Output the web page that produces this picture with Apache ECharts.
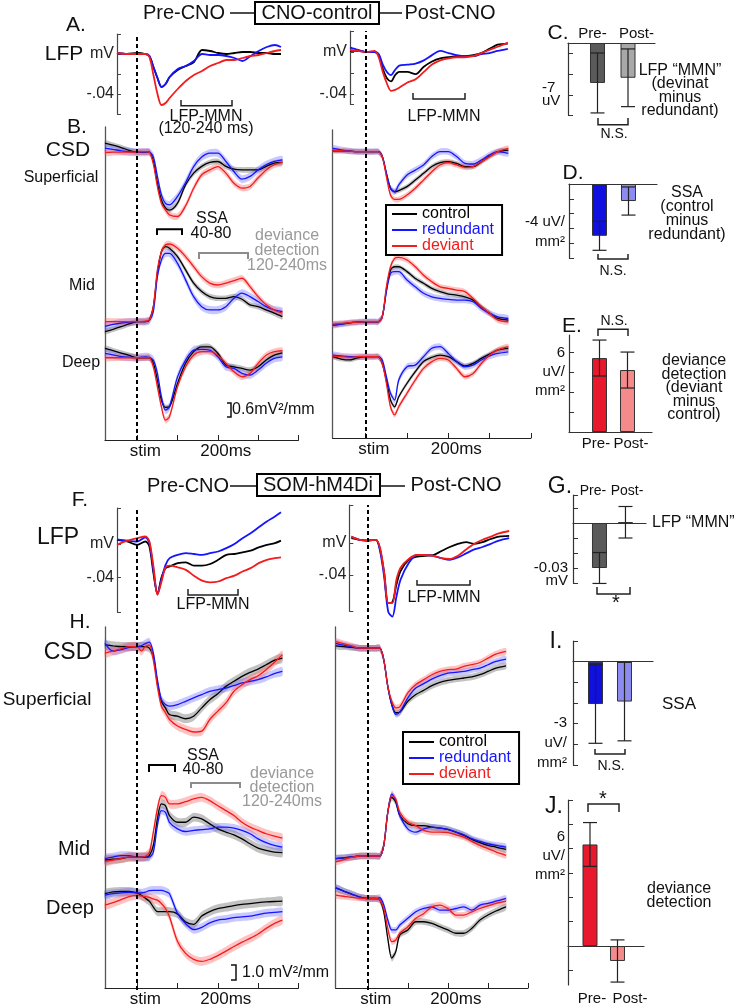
<!DOCTYPE html>
<html>
<head>
<meta charset="utf-8">
<title>LFP and CSD, CNO-control vs SOM-hM4Di</title>
<script src="https://cdn.jsdelivr.net/npm/echarts@6.0.0/dist/echarts.min.js"></script>
<style>
  html, body { margin: 0; padding: 0; background: #fff; }
  #chart { width: 736px; height: 1008px; }
</style>
</head>
<body>
<div id="chart"></div>
<script>
// ---- time bases (ms after stimulus) ----
var lfpTimeL = [-50,-25,0,20,30,40,50,60,70,80,100,120,140,160,180,200,220,240,260,280,300,320,340,355];
var lfpTimeR = [-40,-20,0,20,30,40,50,60,70,80,100,120,140,160,180,200,220,240,260,280,300,320,345];
var csdTimeL = [-80,-60,-40,-20,0,10,20,30,40,50,60,70,80,100,120,140,160,180,200,220,240,260,280,300,320,340,360];
var csdTimeR = [-80,-60,-40,-20,0,10,20,30,40,50,60,70,80,100,120,140,160,180,200,220,240,260,280,300,320,345];

// ---- LFP traces (mV) ----
var lfpCnoPreControl   = [0.001,0,0.001,0,-0.002,-0.013,-0.024,-0.033,-0.030,-0.023,-0.016,-0.012,-0.008,0.004,0.003,0.001,0.000,0.001,0.002,0.002,0.001,0.001,0.000,0.000];
var lfpCnoPreRedundant = [0.001,0,0,0,-0.002,-0.013,-0.024,-0.033,-0.030,-0.023,-0.015,-0.012,-0.007,0.000,-0.001,-0.001,-0.002,-0.004,-0.007,-0.002,0.003,0.007,0.009,0.007];
var lfpCnoPreDeviant   = [0.001,0,0,0,-0.003,-0.021,-0.040,-0.051,-0.049,-0.044,-0.035,-0.027,-0.021,-0.017,-0.012,-0.009,-0.006,-0.006,-0.004,-0.002,-0.001,0.001,0.003,0.004];

var lfpCnoPostControl   = [0.001,0.001,0,0,-0.003,-0.016,-0.025,-0.028,-0.022,-0.019,-0.019,-0.021,-0.014,-0.009,-0.006,-0.005,-0.004,-0.004,-0.003,-0.001,0.003,0.007,0.008];
var lfpCnoPostRedundant = [0.0045,0.002,0,0,-0.002,-0.012,-0.019,-0.022,-0.017,-0.013,-0.012,-0.011,-0.008,-0.003,0.001,-0.001,-0.003,-0.004,-0.004,-0.002,-0.001,0.001,0.003];
var lfpCnoPostDeviant   = [0.002,0.001,0,0.001,-0.005,-0.019,-0.030,-0.037,-0.036,-0.034,-0.029,-0.026,-0.019,-0.012,-0.008,-0.006,-0.005,-0.005,-0.004,-0.001,0.002,0.005,0.009];

var lfpSomPreControl   = [0.005,0.003,-0.001,0.003,-0.003,-0.035,-0.060,-0.040,-0.029,-0.027,-0.023,-0.022,-0.026,-0.026,-0.024,-0.019,-0.013,-0.012,-0.010,-0.008,-0.004,-0.001,0.001,0.004];
var lfpSomPreRedundant = [0.0056,0.004,0.003,0.008,0.001,-0.031,-0.060,-0.042,-0.025,-0.017,-0.013,-0.011,-0.012,-0.013,-0.011,-0.009,-0.005,0.000,0.007,0.013,0.020,0.027,0.033,0.038];
var lfpSomPreDeviant   = [-0.001,0.004,0.007,0.009,0.003,-0.027,-0.061,-0.045,-0.028,-0.026,-0.028,-0.031,-0.038,-0.044,-0.046,-0.045,-0.041,-0.038,-0.033,-0.029,-0.023,-0.019,-0.017,-0.016];

var lfpSomPostControl   = [0.006,0.004,0.003,0.004,-0.008,-0.037,-0.075,-0.074,-0.052,-0.035,-0.021,-0.017,-0.016,-0.015,-0.010,-0.005,-0.001,0.001,-0.001,0.001,0.005,0.008,0.009];
var lfpSomPostRedundant = [0.008,0.004,0.003,0.004,-0.010,-0.042,-0.086,-0.092,-0.067,-0.046,-0.025,-0.015,-0.015,-0.016,-0.019,-0.021,-0.018,-0.013,-0.008,-0.005,-0.001,0.003,0.006];
var lfpSomPostDeviant   = [0.008,0.004,0.003,0.004,-0.006,-0.037,-0.075,-0.075,-0.046,-0.031,-0.020,-0.015,-0.015,-0.016,-0.019,-0.020,-0.016,-0.008,-0.001,0.004,0.008,0.012,0.015];

// ---- CSD traces (mV^2/mm, relative to each layer's baseline) ----
var csdCnoPreSupControl   = [0.39,0.3,0.2,0.08,0,0,0,0,-0.4,-1.33,-2.05,-2.39,-2.49,-2.19,-1.4,-0.9,-0.61,-0.44,-0.4,-0.61,-0.73,-0.76,-0.76,-0.76,-0.61,-0.47,-0.44];
var csdCnoPreSupRedundant = [0.17,0.12,0.06,0.02,0,0,0,0,-0.2,-1.04,-1.83,-2.2,-2.26,-1.9,-1.3,-0.62,-0.21,-0.04,-0.04,-0.4,-0.83,-1.16,-1.04,-0.76,-0.54,-0.4,-0.33];
var csdCnoPreSupDeviant   = [-0.02,0,0,0,0,0.02,0.02,0,-0.5,-1.47,-2.19,-2.48,-2.69,-2.76,-2.3,-1.55,-0.97,-0.76,-0.62,-0.9,-1.33,-1.54,-1.47,-1.1,-0.76,-0.54,-0.44];
var csdCnoPreMidControl   = [-0.43,-0.33,-0.22,-0.1,0,0,0,0.07,0.64,2.08,3.0,3.22,3.15,2.79,2.22,1.65,1.29,1.07,1.0,1.0,1.07,0.96,0.72,0.64,0.5,0.36,0.21];
var csdCnoPreMidRedundant = [-0.2,-0.12,-0.06,-0.02,0,0,0,0.05,0.43,1.93,2.65,2.93,2.93,2.5,1.79,1.07,0.64,0.5,0.5,0.64,1.0,1.22,1.07,0.86,0.64,0.5,0.43];
var csdCnoPreMidDeviant   = [0,0,0,0,0,0,0.02,0.07,0.64,2.22,3.0,3.29,3.33,3.15,2.79,2.36,1.93,1.65,1.57,1.65,1.76,1.86,1.5,1.07,0.72,0.5,0.36];
var csdCnoPreDeepControl   = [0.4,0.3,0.2,0.1,0,0,0,0,-0.24,-0.96,-1.82,-2.13,-2.1,-1.1,-0.24,0.26,0.47,0.47,0.19,-0.31,-0.39,-0.46,-0.53,-0.39,-0.1,0.11,0.21];
var csdCnoPreDeepRedundant = [0.19,0.12,0.05,0.02,0,0.02,0.04,0.02,-0.1,-0.67,-1.67,-2.25,-2.1,-0.82,-0.1,0.33,0.36,0.33,0.04,-0.39,-0.46,-0.67,-0.74,-0.53,-0.24,-0.03,0.04];
var csdCnoPreDeepDeviant   = [0,0,0,0,0,0,0,0,-0.39,-1.24,-2.1,-2.68,-2.53,-1.24,-0.39,0.11,0.26,0.26,0.11,-0.24,-0.6,-0.82,-0.67,-0.24,0.11,0.26,0.3];

var csdCnoPostSupControl   = [0.04,0.03,0.02,0,0,0,0,0,-0.21,-0.93,-1.57,-1.72,-1.67,-1.5,-1.22,-0.93,-0.64,-0.47,-0.43,-0.5,-0.64,-0.64,-0.43,-0.19,0,0.07];
var csdCnoPostSupRedundant = [0.14,0.08,0.03,0,0,0,0,0,-0.21,-0.93,-1.57,-1.72,-1.43,-1.0,-0.79,-0.57,-0.21,0,0,-0.21,-0.5,-0.53,-0.36,-0.14,0,-0.07];
var csdCnoPostSupDeviant   = [0.07,0.04,0.02,0,0,0,0,0,-0.21,-1.07,-1.86,-2.05,-2.05,-1.86,-1.57,-1.22,-0.86,-0.57,-0.47,-0.57,-0.67,-0.64,-0.43,-0.21,0,0.14];
var csdCnoPostMidControl   = [-0.14,-0.1,-0.05,-0.02,0,0,0,0,0.21,1.36,2.22,2.36,2.36,2.15,1.86,1.65,1.43,1.29,1.19,1.14,1.07,0.93,0.64,0.36,0.14,0.07];
var csdCnoPostMidRedundant = [-0.14,-0.1,-0.05,-0.02,0,0,0,0,0.21,1.29,2.07,2.15,2.15,1.79,1.5,1.22,1.07,1.0,0.96,0.93,0.93,0.86,0.57,0.36,0.21,0.14];
var csdCnoPostMidDeviant   = [-0.1,-0.07,-0.04,-0.02,0,0,0,0,0.21,1.5,2.36,2.72,2.76,2.65,2.36,2.0,1.72,1.5,1.43,1.36,1.29,1.0,0.64,0.36,0.07,0];
var csdCnoPostDeepControl   = [0,-0.1,-0.14,-0.05,0,0,0,0,-0.29,-1.0,-1.86,-2.15,-1.72,-1.14,-0.64,-0.21,-0.03,0.07,0,-0.21,-0.4,-0.29,-0.07,0.11,0.29,0.36];
var csdCnoPostDeepRedundant = [0.07,0.03,0,0,0,0,0,0,-0.14,-0.86,-1.57,-1.86,-1.0,-0.43,-0.36,0,0.36,0.43,0.14,-0.21,-0.43,-0.36,-0.14,0.03,0.14,0.21];
var csdCnoPostDeepDeviant   = [0.03,0,-0.03,0,0,0,0,0,-0.29,-1.14,-2.15,-2.5,-2.15,-1.57,-1.0,-0.5,-0.21,-0.07,-0.14,-0.5,-0.86,-0.72,-0.29,0.07,0.29,0.43];

var csdSomPreSupControl   = [0.11,0.05,0,0,0,0,0,-0.1,-0.67,-2.44,-3.67,-4.11,-4.56,-4.67,-4.84,-4.67,-4.11,-3.56,-3.16,-2.67,-2.33,-2.0,-1.73,-1.51,-1.22,-0.93,-0.78];
var csdSomPreSupRedundant = [0.22,-0.3,-0.2,-0.05,0,0.05,0.2,0.3,-0.44,-2.22,-3.56,-3.89,-4.0,-3.89,-3.67,-3.44,-3.22,-3.0,-2.89,-2.78,-2.62,-2.44,-2.33,-2.22,-2.04,-1.82,-1.67];
var csdSomPreSupDeviant   = [-0.44,-0.3,-0.15,0,0,-0.3,0,0.1,-0.89,-2.67,-4.0,-4.44,-4.89,-5.33,-5.56,-5.73,-5.67,-4.89,-4.33,-3.78,-3.0,-2.56,-2.22,-1.96,-1.56,-1.07,-0.56];
var csdSomPreMidControl   = [-0.2,-0.15,-0.1,0,0,0,0,0.1,0.78,2.56,3.56,3.44,2.78,2.33,2.33,2.67,2.56,2.22,1.89,1.67,1.49,1.22,0.89,0.6,0.44,0.33,0.29];
var csdSomPreMidRedundant = [-0.1,0,0.1,0.1,0,0,0,0,0.33,2.11,3.11,3.0,2.33,1.89,1.71,1.78,1.84,1.89,2.0,2.0,1.93,1.78,1.56,1.22,0.96,0.78,0.67];
var csdSomPreMidDeviant   = [-0.3,-0.2,-0.1,0,0,0,0.05,0.3,1.67,3.22,4.11,4.0,3.56,3.56,3.71,3.89,4.0,3.78,3.44,3.11,2.78,2.33,2.0,1.78,1.56,1.4,1.27];
var csdSomPreDeepControl   = [0.1,0.22,0.25,0.25,0.15,0,-0.2,-0.4,-0.8,-1.1,-1.1,-1.1,-1.1,-1.25,-1.8,-1.95,-1.4,-1.1,-0.9,-0.8,-0.7,-0.62,-0.56,-0.5,-0.45,-0.42,-0.4];
var csdSomPreDeepRedundant = [0,0.1,0.15,0.2,0.15,0.15,0.2,0.3,0.33,0.33,0.33,0.25,0.1,-1.22,-1.9,-2.3,-2.15,-1.85,-1.67,-1.6,-1.5,-1.45,-1.4,-1.3,-1.2,-1.15,-1.1];
var csdSomPreDeepDeviant   = [-0.67,-0.5,-0.3,-0.1,0,-0.05,-0.1,-0.15,-0.25,-0.33,-0.56,-0.89,-1.44,-3.1,-3.9,-4.3,-4.44,-4.3,-4.05,-3.75,-3.44,-3.15,-2.89,-2.6,-2.22,-1.9,-1.67];

var csdSomPostSupControl   = [0.15,0.1,0.05,0,0,0,0,0,-0.78,-2.56,-3.78,-4.33,-4.29,-3.56,-3.11,-2.82,-2.51,-2.29,-2.16,-2.07,-2.0,-1.93,-1.78,-1.56,-1.33,-1.18];
var csdSomPostSupRedundant = [0.33,0.2,0.1,0,0,0,0,0,-0.78,-2.56,-3.78,-4.44,-4.29,-3.33,-2.67,-2.38,-2.07,-1.84,-1.67,-1.62,-1.56,-1.44,-1.33,-1.11,-0.89,-0.73];
var csdSomPostSupDeviant   = [0.44,0.3,0.15,0,0,0,0,0,-0.78,-2.56,-3.56,-4.0,-3.93,-3.0,-2.44,-2.11,-1.78,-1.56,-1.44,-1.4,-1.22,-1.11,-0.96,-0.67,-0.4,-0.22];
var csdSomPostMidControl   = [-0.18,-0.12,-0.06,0,0,0,0,0,0.71,2.93,3.93,3.6,2.71,2.16,2.04,2.04,1.93,1.87,1.78,1.6,1.38,1.11,0.89,0.71,0.6,0.44];
var csdSomPostMidRedundant = [-0.18,-0.12,-0.06,0,0,0,0,0,0.71,2.93,4.16,3.71,2.71,1.82,1.6,1.82,1.93,1.87,1.78,1.6,1.42,1.16,0.98,0.82,0.71,0.6];
var csdSomPostMidDeviant   = [-0.4,-0.25,-0.1,0,0,0,0,0,0.71,2.93,4.04,3.82,2.93,2.27,2.04,1.71,1.6,1.6,1.56,1.42,1.27,0.98,0.71,0.49,0.27,0.04];
var csdSomPostDeepControl   = [0.71,0.5,0.3,0.1,0,0,0,-0.1,-0.89,-2.67,-4.0,-3.56,-2.44,-2.11,-1.56,-1.56,-1.67,-1.89,-2.11,-2.33,-2.33,-2.0,-1.44,-1.11,-0.84,-0.56];
var csdSomPostDeepRedundant = [0.71,0.5,0.3,0.1,0,0,0,0.05,-0.44,-1.44,-2.11,-2.11,-1.78,-1.33,-0.89,-0.67,-0.56,-0.78,-0.78,-0.67,-0.56,-0.78,-0.44,-0.33,-0.18,0];
var csdSomPostDeepDeviant   = [0.22,0.15,0.08,0.03,0,0,0,-0.1,-0.67,-2.0,-2.89,-2.78,-2.33,-1.89,-1.33,-1.0,-0.56,-0.44,-0.67,-1.11,-1.11,-0.89,-0.67,-0.49,-0.33,-0.18];

// SEM of each CSD trace: control, redundant, deviant
var semCnoPre  = [0.12, 0.17, 0.14];
var semCnoPost = [0.10, 0.14, 0.12];
var semSomPre  = [0.30, 0.28, 0.30];
var semSomPost = [0.22, 0.22, 0.22];

// ---- bar panels: [Pre, Post] ----
var mmnCnoMean = [-5.4, -4.7],     mmnCnoSem = [4.05, 3.9];     // C, uV
var ssaCnoMean = [-3.5, -1.15],    ssaCnoSem = [0.98, 0.95];    // D, uV/mm2
var ddCnoMean  = [5.55, 4.65],     ddCnoSem  = [1.35, 1.35];    // E, uV/mm2
var mmnSomMean = [-0.030, 0.0005], mmnSomSem = [0.0103, 0.0105]; // G, mV
var ssaSomMean = [-2.05, -1.93],   ssaSomSem = [1.9, 1.9];      // I, uV/mm2
var ddSomMean  = [6.26, -0.92],    ddSomSem  = [1.35, 1.3];     // J, uV/mm2

// ---------------------------------------------------------------
var chart = echarts.init(document.getElementById('chart'));
var FONT = '"Liberation Sans", Arial, Helvetica, sans-serif';
var CONDS = ['control', 'redundant', 'deviant'];
var LINE_COLOR = { control: '#000000', redundant: '#1414ff', deviant: '#f21c1c' };
var BAND_COLOR = { control: 'rgba(110,110,110,0.42)', redundant: 'rgba(90,90,255,0.33)', deviant: 'rgba(255,90,90,0.36)' };

var grids = [], xAxes = [], yAxes = [], series = [], graphics = [];

function addGrid(box, xAxis, yAxis) {
  grids.push({ left: box[0], top: box[1], width: box[2], height: box[3] });
  var gi = grids.length - 1;
  xAxis.gridIndex = gi;
  yAxis.gridIndex = gi;
  xAxes.push(xAxis);
  yAxes.push(yAxis);
  return gi;
}
function zip(t, v, off) {
  return t.map(function (x, i) { return [x, v[i] + (off || 0)]; });
}

function lfpPanel(box, xr, yr, ticks, time, traces) {
  var gi = addGrid(box,
    { type: 'value', min: xr[0], max: xr[1], show: false },
    { type: 'value', min: yr[0], max: yr[1], splitLine: { show: false },
      axisLine: { show: true, onZero: false, lineStyle: { color: '#444', width: 1.2 } },
      axisTick: { show: true, inside: true, length: 4, customValues: ticks, lineStyle: { color: '#444' } },
      axisLabel: { show: true, customValues: [0, -0.04], margin: 3, fontSize: 16, color: '#222', fontFamily: FONT,
        formatter: function (v) { return Math.abs(v) < 1e-9 ? 'mV' : '-.04'; } } });
  CONDS.forEach(function (c, k) {
    series.push({ type: 'line', name: c, xAxisIndex: gi, yAxisIndex: gi, data: zip(time, traces[k]),
      symbol: 'none', smooth: 0.3, clip: false, silent: true, z: 3,
      lineStyle: { color: LINE_COLOR[c], width: 1.8 }, itemStyle: { color: LINE_COLOR[c] } });
  });
}

// mean +/- SEM band as one polygon placed through the grid's own axes
function band(gi, time, vals, off, s, color) {
  var upper = time.map(function (t, i) { return [t, vals[i] + off + s]; });
  var lower = time.map(function (t, i) { return [t, vals[i] + off - s]; }).reverse();
  var ring = upper.concat(lower);
  series.push({ type: 'custom', xAxisIndex: gi, yAxisIndex: gi, silent: true, z: 1, data: [[time[0], off]],
    renderItem: function (params, api) {
      return { type: 'polygon', shape: { points: ring.map(function (p) { return api.coord(p); }), smooth: 0.25 },
        style: { fill: color, stroke: null } };
    } });
}

function csdPanel(box, yMax, time, layers, offsets, sems) {
  var gi = addGrid(box,
    { type: 'value', min: -80, max: 400, splitLine: { show: false },
      axisLine: { show: true, onZero: false, lineStyle: { color: '#222', width: 1.2 } },
      axisTick: { show: true, inside: true, length: 5, customValues: [0, 100, 200, 300, 400], lineStyle: { color: '#222' } },
      axisLabel: { show: true, customValues: [0, 200], margin: 3, fontSize: 17, color: '#111', fontFamily: FONT,
        padding: [0, 0, 0, 16], formatter: function (v) { return v === 0 ? 'stim' : '200ms'; } } },
    { type: 'value', min: 0, max: yMax, splitLine: { show: false }, axisTick: { show: false }, axisLabel: { show: false },
      axisLine: { show: true, onZero: false, lineStyle: { color: '#555', width: 1.3 } } });
  layers.forEach(function (layer, li) {
    CONDS.forEach(function (c, k) { band(gi, time, layer[k], offsets[li], sems[k], BAND_COLOR[c]); });
  });
  layers.forEach(function (layer, li) {
    CONDS.forEach(function (c, k) {
      series.push({ type: 'line', name: c, xAxisIndex: gi, yAxisIndex: gi, data: zip(time, layer[k], offsets[li]),
        symbol: 'none', smooth: 0.3, silent: true, z: 2,
        lineStyle: { color: LINE_COLOR[c], width: 1.3 }, itemStyle: { color: LINE_COLOR[c] } });
    });
  });
}

function stimLine(box) {
  var gi = addGrid(box, { type: 'value', min: -80, max: 400, show: false }, { type: 'value', min: 0, max: 1, show: false });
  series.push({ type: 'line', xAxisIndex: gi, yAxisIndex: gi, data: [], symbol: 'none', silent: true, z: 4,
    markLine: { silent: true, symbol: 'none', animation: false, label: { show: false },
      lineStyle: { color: '#000', width: 2, type: [4, 3] }, data: [{ xAxis: 0 }] } });
}

function errorBar(params, api) {
  var x = api.value(0), m = api.value(1), s = api.value(2);
  var hi = api.coord([x, m + s]), lo = api.coord([x, m - s]);
  var w = 7, st = { stroke: '#222', lineWidth: 1.2 };
  return { type: 'group', children: [
    { type: 'line', shape: { x1: hi[0], y1: hi[1], x2: lo[0], y2: lo[1] }, style: st },
    { type: 'line', shape: { x1: hi[0] - w, y1: hi[1], x2: hi[0] + w, y2: hi[1] }, style: st },
    { type: 'line', shape: { x1: lo[0] - w, y1: lo[1], x2: lo[0] + w, y2: lo[1] }, style: st }
  ] };
}

function barPanel(box, xr, yr, ticks, means, sems, colors) {
  var gi = addGrid(box,
    { type: 'value', min: xr[0], max: xr[1], splitLine: { show: false }, axisTick: { show: false }, axisLabel: { show: false },
      axisLine: { show: true, onZero: true, lineStyle: { color: '#333', width: 1.2 } } },
    { type: 'value', min: yr[0], max: yr[1], splitLine: { show: false }, axisLabel: { show: false },
      axisLine: { show: true, onZero: false, lineStyle: { color: '#333', width: 1.2 } },
      axisTick: { show: true, inside: true, length: 5, customValues: ticks, lineStyle: { color: '#333' } } });
  series.push({ type: 'bar', xAxisIndex: gi, yAxisIndex: gi, barWidth: 15, silent: true, z: 2,
    data: means.map(function (m, i) {
      return { value: [i + 1, m], itemStyle: { color: colors[i], borderColor: '#333', borderWidth: 1 } };
    }) });
  series.push({ type: 'custom', xAxisIndex: gi, yAxisIndex: gi, silent: true, z: 3, renderItem: errorBar,
    data: means.map(function (m, i) { return [i + 1, m, sems[i]]; }) });
}

function text(str, x, y, size, opts) {
  opts = opts || {};
  graphics.push({ type: 'text', x: x, y: y, silent: true, z: 10,
    style: { text: str, fontSize: size, fontFamily: FONT, fill: opts.color || '#111',
      align: opts.align || 'center', verticalAlign: 'middle', lineHeight: opts.lh || size } });
}
function path(points, color, width) {
  graphics.push({ type: 'polyline', silent: true, z: 10, shape: { points: points },
    style: { fill: 'none', stroke: color || '#111', lineWidth: width || 1.5 } });
}
function box(x, y, w, h) {
  graphics.push({ type: 'rect', silent: true, z: 10, shape: { x: x, y: y, width: w, height: h },
    style: { fill: 'none', stroke: '#000', lineWidth: 2 } });
}

// ---- top half: CNO-control ----
lfpPanel([117, 34, 166, 80], [-50, 360], [-0.06, 0.02], [0.02, 0, -0.02, -0.04, -0.06], lfpTimeL,
  [lfpCnoPreControl, lfpCnoPreRedundant, lfpCnoPreDeviant]);
lfpPanel([350, 31, 164, 73.5], [-40, 360], [-0.05, 0.02], [0.02, 0, -0.02, -0.04, -0.05], lfpTimeR,
  [lfpCnoPostControl, lfpCnoPostRedundant, lfpCnoPostDeviant]);
csdPanel([105, 127, 193.4, 313], 13.43, csdTimeL,
  [[csdCnoPreSupControl, csdCnoPreSupRedundant, csdCnoPreSupDeviant],
   [csdCnoPreMidControl, csdCnoPreMidRedundant, csdCnoPreMidDeviant],
   [csdCnoPreDeepControl, csdCnoPreDeepRedundant, csdCnoPreDeepDeviant]], [12.35, 5.08, 3.53], semCnoPre);
csdPanel([332.7, 130, 198.2, 308], 13.22, csdTimeR,
  [[csdCnoPostSupControl, csdCnoPostSupRedundant, csdCnoPostSupDeviant],
   [csdCnoPostMidControl, csdCnoPostMidRedundant, csdCnoPostMidDeviant],
   [csdCnoPostDeepControl, csdCnoPostDeepRedundant, csdCnoPostDeepDeviant]], [12.29, 4.99, 3.49], semCnoPost);
stimLine([105, 34, 193.4, 406]);
stimLine([332.7, 31, 198.2, 407]);

// ---- bottom half: SOM-hM4Di ----
lfpPanel([117, 508, 166, 104], [-50, 360], [-0.0816, 0.0432], [0.0432, 0, -0.04, -0.0816], lfpTimeL,
  [lfpSomPreControl, lfpSomPreRedundant, lfpSomPreDeviant]);
lfpPanel([349.3, 505, 166, 106], [-45, 360], [-0.085, 0.0475], [0.0475, 0, -0.04, -0.085], lfpTimeR,
  [lfpSomPostControl, lfpSomPostRedundant, lfpSomPostDeviant]);
csdPanel([105, 627, 193.4, 363], 24.2, csdTimeL,
  [[csdSomPreSupControl, csdSomPreSupRedundant, csdSomPreSupDeviant],
   [csdSomPreMidControl, csdSomPreMidRedundant, csdSomPreMidDeviant],
   [csdSomPreDeepControl, csdSomPreDeepRedundant, csdSomPreDeepDeviant]], [22.89, 8.78, 6.22], semSomPre);
csdPanel([335.7, 627, 192.3, 363], 24.2, csdTimeR,
  [[csdSomPostSupControl, csdSomPostSupRedundant, csdSomPostSupDeviant],
   [csdSomPostMidControl, csdSomPostMidRedundant, csdSomPostMidDeviant],
   [csdSomPostDeepControl, csdSomPostDeepRedundant, csdSomPostDeepDeviant]], [22.78, 8.85, 6.0], semSomPost);
stimLine([105, 508, 193.4, 482]);
stimLine([335.7, 505, 192.3, 485]);

// ---- bar panels ----
var GRAY = ['#5a5a5a', '#a8a8a8'], BLUE = ['#1010e0', '#8c8cf0'], RED = ['#e8192c', '#f58a8a'];
barPanel([568, 43, 87, 72], [0.033, 2.885], [-9.73, 0], [-1.35, -4.19, -7.03, -9.73], mmnCnoMean, mmnCnoSem, GRAY);
barPanel([569, 184, 88, 74], [-0.052, 2.983], [-5, 0], [-1, -2, -3, -4, -5], ssaCnoMean, ssaCnoSem, BLUE);
barPanel([569, 335, 83, 97], [-0.089, 2.875], [0, 7.28], [6, 4.5, 3, 1.5], ddCnoMean, ddCnoSem, RED);
barPanel([573, 495, 73, 88], [-0.019, 2.79], [-0.04, 0.01867], [0.01867, 0.01, -0.01, -0.02, -0.03, -0.04], mmnSomMean, mmnSomSem, GRAY);
barPanel([573, 641, 80, 124], [0.224, 2.983], [-5, 1], [1, -1, -2, -3, -4, -5], ssaSomMean, ssaSomSem, BLUE);
barPanel([568, 800, 76, 185], [0.2, 2.964], [-2.4, 9], [9, 7.5, 6, 4.5, 3, 1.5, -1.5], ddSomMean, ddSomSem, RED);

// ---- titles and annotations ----
text('Pre-CNO', 184, 13.5, 20);
path([[230, 13], [255, 13]], '#111', 1.5);
box(255, 2, 124, 22);
text('CNO-control', 317, 13.5, 20);
path([[379, 13], [402, 13]], '#111', 1.5);
text('Post-CNO', 450, 13.5, 20);
text('A.', 76, 25, 21);
text('LFP', 64, 54.5, 21);
text('LFP-MMN', 206, 117, 16);
text('(120-240 ms)', 206, 129, 16);
path([[181, 100], [181, 105.7], [232, 105.7], [232, 100]], '#222', 1.5);
text('LFP-MMN', 444, 117, 16);
path([[413, 93], [413, 99], [465, 99], [465, 93]], '#222', 1.5);
text('B.', 77, 127, 21);
text('CSD', 68, 150, 21);
text('Superficial', 61, 178, 16);
text('Mid', 82, 286, 16);
text('Deep', 81, 363, 16);
text('SSA', 212, 219, 16);
text('40-80', 211, 234, 16);
path([[157, 235], [157, 229.3], [182, 229.3], [182, 235]], '#000', 2);
text('deviance\ndetection\n120-240ms', 287, 251, 16, { color: '#999', lh: 15 });
path([[199, 259], [199, 253], [248, 253], [248, 259]], '#8c8c8c', 2);
path([[227, 403], [231, 403], [231, 417], [227, 417]], '#111', 1.5);
text('0.6mV²/mm', 232, 410, 16, { align: 'left' });

text('Pre-CNO', 188, 486, 20);
path([[230, 486], [257, 486]], '#111', 1.5);
box(257, 474, 123, 22);
text('SOM-hM4Di', 318, 485, 20);
path([[380, 486], [405, 486]], '#111', 1.5);
text('Post-CNO', 456, 485, 20);
text('F.', 80, 500, 21);
text('LFP', 58, 538, 23);
text('LFP-MMN', 213, 605, 16);
path([[188, 589], [188, 595], [238, 595], [238, 589]], '#222', 1.5);
text('LFP-MMN', 444, 598, 16);
path([[417, 580], [417, 585], [470, 585], [470, 580]], '#222', 1.5);
text('H.', 80, 622, 21);
text('CSD', 68, 653, 23);
text('Superficial', 47, 700, 19);
text('Mid', 74, 849, 20);
text('Deep', 70, 908, 20);
text('SSA', 203, 756, 16);
text('40-80', 203, 770, 16);
path([[149, 772], [149, 765], [175, 765], [175, 772]], '#000', 2);
text('deviance\ndetection\n120-240ms', 282, 788, 16, { color: '#999', lh: 14 });
path([[191, 788], [191, 783], [240, 783], [240, 788]], '#8c8c8c', 2);
path([[231, 965], [236, 965], [236, 980], [231, 980]], '#111', 1.5);
text('1.0 mV²/mm', 242, 973, 16, { align: 'left' });

// C
text('C.', 558, 33, 21);
text('Pre-', 592.5, 34, 15);
text('Post-', 636.5, 34, 15);
text('-7\nuV', 542, 94.5, 15, { align: 'left', lh: 13 });
text('LFP “MMN”\n(devinat\nminus\nredundant)', 680, 90.5, 16, { lh: 13.5 });
path([[598, 118], [598, 124.7], [628, 124.7], [628, 118]], '#222', 1.5);
text('N.S.', 614, 134, 14);
// D
text('D.', 573, 173, 21);
text('-4 uV/\nmm²', 565, 231.5, 15, { align: 'right', lh: 20 });
text('SSA\n(control\nminus\nredundant)', 687, 213.5, 16, { lh: 14 });
path([[598, 254], [598, 259], [628, 259], [628, 254]], '#222', 1.5);
text('N.S.', 613, 271, 14);
// E
text('E.', 572, 326, 21);
text('N.S.', 614, 321, 14);
path([[598, 336], [598, 329.3], [628, 329.3], [628, 336]], '#222', 1.5);
text('6\nuV/\nmm²', 565, 372, 15, { align: 'right', lh: 19 });
text('deviance\ndetection\n(deviant\nminus\ncontrol)', 694, 388, 16, { lh: 13.5 });
text('Pre-', 596, 444, 15);
text('Post-', 631, 444, 15);
// G
text('G.', 560, 487, 23);
text('Pre-', 593, 491, 14);
text('Post-', 627, 491, 14);
text('-0.03\nmV', 568, 574.5, 15, { align: 'right', lh: 13 });
text('LFP “MMN”', 652, 523, 16, { align: 'left' });
path([[597, 587], [597, 594], [630, 594], [630, 587]], '#222', 1.5);
text('*', 616, 603, 20);
// I
text('I.', 556, 642, 23);
text('-3\nuV/\nmm²', 567, 743, 15, { align: 'right', lh: 20 });
text('SSA', 679, 704, 17);
path([[595, 749], [595, 754], [625, 754], [625, 749]], '#222', 1.5);
text('N.S.', 611, 766, 14);
// J
text('J.', 554, 807, 23);
path([[588, 812], [588, 804], [619, 804], [619, 812]], '#222', 1.5);
text('*', 603, 799, 20);
text('6\nuV/\nmm²', 565, 856, 15, { align: 'right', lh: 19 });
text('deviance\ndetection', 679, 895.5, 16, { lh: 13.5 });
text('Pre-', 592, 999, 15);
text('Post-', 630, 999, 15);

function legendAt(left, top, pad, lh) {
  return { left: left, top: top, orient: 'vertical', icon: 'rect', itemWidth: 25, itemHeight: 2, itemGap: 0,
    padding: pad, borderColor: '#000', borderWidth: 2, selectedMode: false,
    textStyle: { fontSize: 16, fontFamily: FONT, lineHeight: lh },
    data: CONDS.map(function (c) { return { name: c, textStyle: { color: LINE_COLOR[c] } }; }) };
}

chart.setOption({
  animation: false,
  backgroundColor: '#fff',
  textStyle: { fontFamily: FONT },
  legend: [legendAt(386, 205, [1, 8, 1, 6], 14), legendAt(403, 732, [2, 8, 2, 6], 14.5)],
  grid: grids,
  xAxis: xAxes,
  yAxis: yAxes,
  series: series,
  graphic: graphics
});
</script>
</body>
</html>
